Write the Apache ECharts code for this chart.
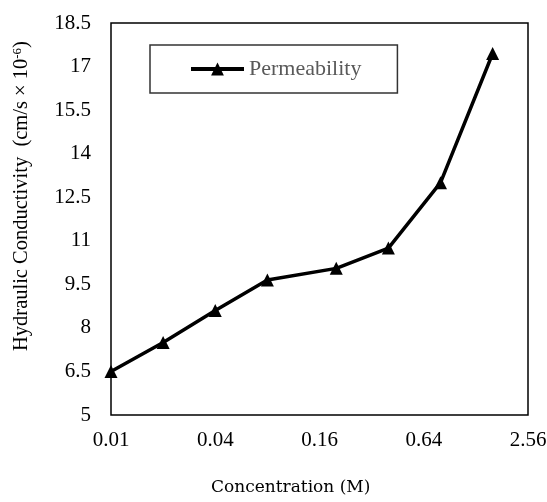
<!DOCTYPE html>
<html>
<head>
<meta charset="utf-8">
<script src="https://cdn.jsdelivr.net/npm/echarts@6/dist/echarts.min.js"></script>
<style>
  html, body { margin: 0; padding: 0; background: #fff; }
  #chart { width: 547px; height: 502px; }
</style>
</head>
<body>
<div id="chart"></div>
<script>
// Molar concentration of the permeant solution (M)
const concentrations = [0.01, 0.02, 0.04, 0.08, 0.2, 0.4, 0.8, 1.6];
// Measured hydraulic conductivity (cm/s × 10^-6)
const permeability = [6.5, 7.5, 8.6, 9.65, 10.05, 10.75, 13.0, 17.45];
// Axis tick labels
const xTicks = ['0.01', '0.04', '0.16', '0.64', '2.56'];
const yTicks = ['5', '6.5', '8', '9.5', '11', '12.5', '14', '15.5', '17', '18.5'];

const serif = '"Liberation Serif", "Times New Roman", serif';
const chart = echarts.init(document.getElementById('chart'), null, { renderer: 'canvas' });

// The log scale steps in log space, so tick values carry tiny rounding noise;
// snap each one to the nearest listed label.
function logTickLabel(v) {
  for (const t of xTicks) {
    if (Math.abs(Math.log(v / parseFloat(t))) < 0.02) return t;
  }
  return '';
}

chart.setOption({
  backgroundColor: '#ffffff',
  animation: false,
  grid: {
    left: 111, right: 19, top: 23, bottom: 87,
    outerBoundsMode: 'none',
    containLabel: false,
    show: true, borderColor: '#000', borderWidth: 1.5, backgroundColor: 'transparent'
  },
  legend: {
    left: 150, top: 45,
    padding: [13, 36, 13, 39],
    borderColor: '#333', borderWidth: 1.5,
    itemWidth: 53, itemHeight: 16, itemGap: 4,
    lineStyle: { width: 4, color: '#000' },
    itemStyle: { color: '#000' },
    textStyle: { fontFamily: serif, fontSize: 22, color: '#595959' },
    data: ['Permeability']
  },
  xAxis: {
    type: 'log',
    logBase: 4,
    min: 0.01, max: 2.56,
    interval: 1,
    axisLine: { show: false },
    axisTick: { show: false },
    splitLine: { show: false },
    minorTick: { show: false },
    axisLabel: {
      margin: 15,
      interval: 0,
      hideOverlap: false,
      showMinLabel: true,
      showMaxLabel: true,
      fontFamily: serif, fontSize: 21, color: '#000',
      formatter: v => logTickLabel(+v)
    }
  },
  yAxis: {
    type: 'value',
    min: 5, max: 18.5, interval: 1.5,
    axisLine: { show: false },
    axisTick: { show: false },
    splitLine: { show: false },
    axisLabel: {
      margin: 20,
      fontFamily: serif, fontSize: 21, color: '#000',
      formatter: v => {
        const s = String(+v.toFixed(1));
        return yTicks.includes(s) ? s : '';
      }
    }
  },
  graphic: [
    {
      type: 'text',
      left: 211, top: 479,
      style: {
        text: 'Concentration (M)',
        font: '17px "DejaVu Serif", serif',
        fill: '#000'
      }
    },
    {
      type: 'text',
      x: 11, y: 351,
      rotation: Math.PI / 2,
      style: {
        text: '{a|Hydraulic Conductivity  (cm/s × 10}{s|-6}{a|)}',
        rich: {
          a: { font: '20.5px ' + serif, fill: '#000', verticalAlign: 'bottom' },
          s: { font: '13px ' + serif, fill: '#000', verticalAlign: 'top' }
        }
      }
    }
  ],
  series: [
    {
      name: 'Permeability',
      type: 'line',
      data: concentrations.map((c, i) => [c, permeability[i]]),
      symbol: 'triangle',
      symbolSize: 13,
      lineStyle: { color: '#000', width: 3.5 },
      itemStyle: { color: '#000' }
    }
  ]
});
</script>
</body>
</html>
